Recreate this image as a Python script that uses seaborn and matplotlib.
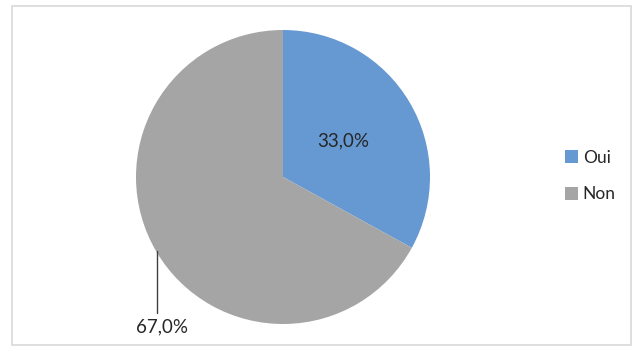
import matplotlib
matplotlib.use("Agg")
import matplotlib.pyplot as plt
import seaborn as sns
from matplotlib.patches import Rectangle

categories = ["Oui", "Non"]
values = [33.0, 67.0]
colors = ["#6699D2", "#A5A5A5"]

sns.set_theme(style="white")
plt.rcParams['font.family'] = ['Lato', 'DejaVu Sans']

fig = plt.figure(figsize=(6.4, 3.55), dpi=100)
fig.patch.set_facecolor("white")

# chart border
fig.add_artist(Rectangle((12/640, 1-345/355), (631-12)/640, (345-6)/355,
                         transform=fig.transFigure, fill=False,
                         edgecolor="#D9D9D9", linewidth=1.2))

ax = fig.add_axes([(283-147)/640, (355-177-147)/355, 294/640, 294/355])
wedges, texts = ax.pie(values, colors=colors, startangle=90, counterclock=False,
                       radius=1.0, wedgeprops=dict(linewidth=0))
ax.set_aspect("equal")
ax.set_xlim(-1, 1)
ax.set_ylim(-1, 1)
ax.axis("off")

labels = [f"{v:.1f}".replace(".", ",") + "%" for v in values]
# Oui label inside
ax.text(0.41, 0.245, labels[0], ha="center", va="center", fontsize=13.5, color="#262626")
# Non label outside with vertical leader line
ax.plot([-0.86, -0.86], [-0.50, -0.925], color="#404040", lw=1.0, clip_on=False)
ax.text(-0.823, -1.02, labels[1], ha="center", va="center", fontsize=13.5,
        color="#262626", clip_on=False)

handles = [Rectangle((0, 0), 1, 1, facecolor=c, edgecolor="none") for c in colors]
fig.legend(handles, categories, loc="center left", bbox_to_anchor=(549/640, 1-176/355),
           frameon=False, fontsize=12.5, handlelength=0.75, handleheight=0.75,
           handletextpad=0.3, labelspacing=1.2, labelcolor="#262626")

fig.savefig("out.png", dpi=100)
